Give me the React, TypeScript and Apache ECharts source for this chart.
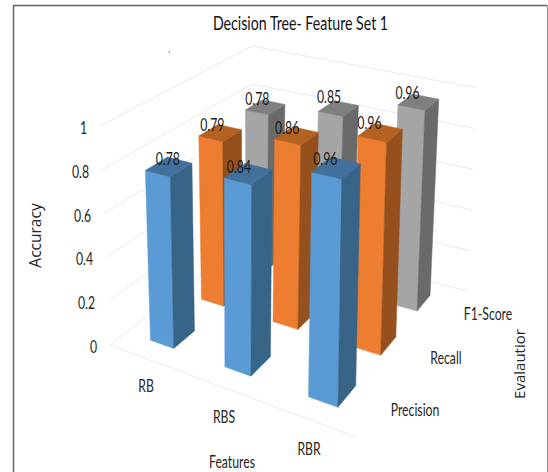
import React, { useEffect, useRef } from "react";
import * as echarts from "echarts";

const features = ["RB", "RBS", "RBR"];
const evaluations = ["Precision", "Recall", "F1-Score"];
const precisionValues = [0.78, 0.84, 0.96];
const recallValues = [0.79, 0.86, 0.96];
const f1Values = [0.78, 0.85, 0.96];
const accuracyTicks = [0, 0.2, 0.4, 0.6, 0.8, 1];

const NARROW = 'Lato, "Liberation Sans", sans-serif';
const WIDE = '"Open Sans", "Liberation Sans", sans-serif';
const SQUEEZE = 0.68;

type Pt = [number, number];

// Maps the unit square onto a screen quadrilateral with a perspective transform.
function quadMapper(p0: Pt, p1: Pt, p2: Pt, p3: Pt) {
  const dx1 = p1[0] - p2[0];
  const dx2 = p3[0] - p2[0];
  const sx = p0[0] - p1[0] + p2[0] - p3[0];
  const dy1 = p1[1] - p2[1];
  const dy2 = p3[1] - p2[1];
  const sy = p0[1] - p1[1] + p2[1] - p3[1];
  const den = dx1 * dy2 - dx2 * dy1;
  const g = (sx * dy2 - dx2 * sy) / den;
  const h = (dx1 * sy - sx * dy1) / den;
  const a = p1[0] - p0[0] + g * p1[0];
  const b = p3[0] - p0[0] + h * p3[0];
  const d = p1[1] - p0[1] + g * p1[1];
  const e = p3[1] - p0[1] + h * p3[1];
  return (u: number, w: number): Pt => {
    const q = g * u + h * w + 1;
    return [(a * u + b * w + p0[0]) / q, (d * u + e * w + p0[1]) / q];
  };
}

// Chart box: floor and ceiling planes of the 3D plot (left, front, right, back corners).
const floorAt = quadMapper([110, 345], [356, 437], [467, 291], [252, 236]);
const ceilingAt = quadMapper([100, 126], [360, 190], [477, 88], [252, 46]);

function project(u: number, w: number, t: number): Pt {
  const f = floorAt(u, w);
  const c = ceilingAt(u, w);
  return [f[0] + (c[0] - f[0]) * t, f[1] + (c[1] - f[1]) * t];
}

const BAR_U = 0.108;
const BAR_W = 0.132;

// Offset of each value label from the centre of its bar's top, by feature and evaluation.
const labelShiftX = [
  [-1, -8, -8],
  [-9.5, -9.5, -9.5],
  [-11, -11, -11],
];
const labelShiftY = [
  [-9, -9, -9],
  [-8, -9, -12],
  [-10, -11, -10],
];

const palette = [
  { front: "#5B9BD5", side: "#386488", top: "#41719C" },
  { front: "#ED7D31", side: "#96501D", top: "#B5611F" },
  { front: "#A5A5A5", side: "#6A6A6A", top: "#7F7F7F" },
];

function normalised(api: any, v: number) {
  const y0 = api.coord([0, 0])[1];
  const y1 = api.coord([0, 1])[1];
  return (y0 - api.coord([0, v])[1]) / (y0 - y1);
}

function barItem(_: any, api: any) {
  const fi = api.value(0);
  const ei = api.value(2);
  const t = normalised(api, api.value(1));
  const colors = palette[ei];
  const u0 = (fi + 0.5) / 3 - BAR_U / 2;
  const u1 = u0 + BAR_U;
  const w0 = (ei + 0.5) / 3 - BAR_W / 2;
  const w1 = w0 + BAR_W;
  const poly = (points: Pt[], fill: string) => ({
    type: "polygon",
    shape: { points },
    style: { fill, stroke: fill, lineWidth: 0.5 },
  });
  return {
    type: "group",
    children: [
      poly([project(u0, w0, 0), project(u1, w0, 0), project(u1, w0, t), project(u0, w0, t)], colors.front),
      poly([project(u1, w0, 0), project(u1, w1, 0), project(u1, w1, t), project(u1, w0, t)], colors.side),
      poly([project(u0, w0, t), project(u1, w0, t), project(u1, w1, t), project(u0, w1, t)], colors.top),
    ],
  };
}

function valueLabelItem(_: any, api: any) {
  const fi = api.value(0);
  const ei = api.value(2);
  const v = api.value(1);
  const c = project((fi + 0.5) / 3, (ei + 0.5) / 3, normalised(api, v));
  return {
    type: "text",
    x: c[0] + labelShiftX[fi][ei],
    y: c[1] + labelShiftY[fi][ei],
    scaleX: SQUEEZE,
    style: {
      text: v.toFixed(2),
      align: "center",
      verticalAlign: "middle",
      fill: "#1a1a1a",
      font: `18px ${NARROW}`,
    },
  };
}

// Wall grid lines for one accuracy level, with its tick label beside the left edge.
function gridLineItem(_: any, api: any) {
  const v = api.value(1);
  const t = normalised(api, v);
  const left = project(0, 0, t);
  const children: any[] = [
    {
      type: "polyline",
      shape: { points: [left, project(0, 1, t), project(1, 1, t)] },
      style: { fill: "none", stroke: "#EAEAEA", lineWidth: 1 },
    },
    {
      type: "text",
      x: left[0] - 13,
      y: left[1] + 1,
      scaleX: SQUEEZE,
      style: {
        text: String(v),
        align: "right",
        verticalAlign: "middle",
        fill: "#262626",
        font: `18px ${NARROW}`,
      },
    },
  ];
  if (v === 0) {
    const a = project(0, 0, 0);
    const b = project(1, 0, 0);
    children.push({
      type: "line",
      shape: { x1: a[0], y1: a[1], x2: b[0], y2: b[1] },
      style: { stroke: "#EAEAEA", lineWidth: 1 },
    });
  }
  return { type: "group", children };
}

// One record per bar, ordered from the back corner of the floor to the front one.
const valueTable = [precisionValues, recallValues, f1Values];
const barRows: number[][] = [];
features.forEach((_, fi) =>
  evaluations.forEach((__, ei) => barRows.push([fi, valueTable[ei][fi], ei]))
);
barRows.sort((a, b) => a[0] - a[2] - (b[0] - b[2]));

const squeezedText = (text: string, x: number, y: number, size = 18, fill = "#262626", scaleX = SQUEEZE) => ({
  type: "text",
  x,
  y,
  scaleX,
  style: { text, font: `${size}px ${NARROW}`, fill, align: "center", verticalAlign: "middle" },
});

export default function App() {
  const ref = useRef<HTMLDivElement>(null);
  useEffect(() => {
    const chart = echarts.init(ref.current!, undefined, { renderer: "svg" });
    chart.setOption({
      animation: false,
      backgroundColor: "#ffffff",
      grid: { left: 98, right: 0, top: 126, bottom: 127 },
      xAxis: { type: "category", data: features, show: false },
      yAxis: {
        type: "value",
        min: 0,
        max: 1,
        interval: 0.2,
        name: "Accuracy",
        nameLocation: "middle",
        nameRotate: 90,
        nameGap: 55,
        nameTextStyle: { fontFamily: WIDE, fontSize: 15.5, color: "#262626" },
        axisLine: { show: false },
        axisTick: { show: false },
        splitLine: { show: false },
        axisLabel: { show: false },
      },
      series: [
        {
          type: "custom",
          clip: false,
          silent: true,
          z: 1,
          renderItem: gridLineItem,
          encode: { x: 0, y: 1 },
          data: accuracyTicks.map((v) => [0, v]),
        },
        {
          type: "custom",
          clip: false,
          silent: true,
          z: 2,
          renderItem: barItem,
          encode: { x: 0, y: 1 },
          data: barRows,
        },
        {
          type: "custom",
          clip: false,
          silent: true,
          z: 3,
          renderItem: valueLabelItem,
          encode: { x: 0, y: 1 },
          data: barRows,
        },
      ],
      graphic: [
        { type: "polyline", shape: { points: [[13.5, 472], [13.5, 5.5], [547.5, 5.5]] }, style: { fill: "none", stroke: "#636363", lineWidth: 1.5 } },
        { type: "line", shape: { x1: 547.5, y1: 6, x2: 547.5, y2: 472 }, style: { stroke: "#9A9A9A", lineWidth: 1.2 } },
        { type: "rect", shape: { x: 168.5, y: 51.5, width: 1.5, height: 1.5 }, style: { fill: "#F06A80" } },
        squeezedText("Decision Tree- Feature Set 1", 300.5, 23, 19, "#111111", 0.745),
        squeezedText(features[0], 146, 385),
        squeezedText(features[1], 224, 416),
        squeezedText(features[2], 309, 448),
        squeezedText("Features", 232, 461),
        squeezedText(evaluations[0], 415, 409),
        squeezedText(evaluations[1], 446, 357),
        squeezedText(evaluations[2], 488, 313),
        {
          type: "text",
          x: 519,
          y: 364,
          rotation: Math.PI / 2,
          style: { text: "Evalautior", font: `15px ${WIDE}`, fill: "#262626", align: "center", verticalAlign: "middle" },
        },
      ],
    });
    return () => chart.dispose();
  }, []);
  return <div ref={ref} style={{ position: "fixed", left: 0, top: 0, width: 548, height: 472 }} />;
}
